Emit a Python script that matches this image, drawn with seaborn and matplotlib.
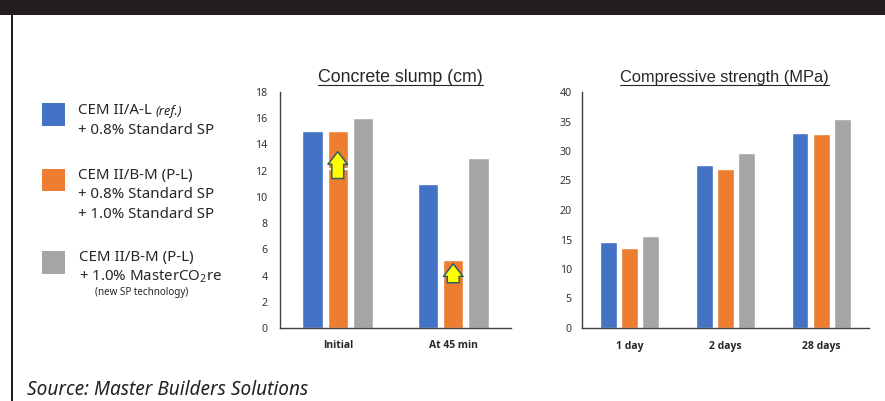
import pandas as pd
import matplotlib.pyplot as plt
import seaborn as sns
from matplotlib.patches import Rectangle
from matplotlib.lines import Line2D

W, H = 885, 401

# Chart data
mixes = ['A', 'B', 'C']
mix_colors = ['#4472C4', '#ED7D31', '#A5A5A5']
slump_times = ['Initial', 'At 45 min']
slump_a = [15, 11]
slump_b = [15, 5.2]
slump_c = [16, 13]
# level of the white line in the orange bars, and arrow ends
slump_b_before = [12.1, 4.0]
arrow_bottom = [11.4, 3.45]
arrow_top = [13.45, 4.9]
strength_ages = ['1 day', '2 days', '28 days']
strength_a = [14.6, 27.6, 33]
strength_b = [13.5, 27, 32.9]
strength_c = [15.6, 29.6, 35.4]

sns.set_theme(style="white")
plt.rcParams['font.family'] = ['Noto Sans', 'DejaVu Sans']
plt.rcParams['mathtext.fontset'] = 'custom'
plt.rcParams['mathtext.rm'] = 'Noto Sans'
plt.rcParams['mathtext.default'] = 'regular'


def long_table(cats, a, b, c):
    rows = []
    for mix, vals in zip(mixes, [a, b, c]):
        for cat, v in zip(cats, vals):
            rows.append({'cat': cat, 'mix': mix, 'value': v})
    return pd.DataFrame(rows)


def px_axes(fig, left, top, right, bottom):
    return fig.add_axes([left / W, 1 - bottom / H, (right - left) / W, (bottom - top) / H])


def px_rect(fig, left, top, right, bottom, color):
    fig.add_artist(Rectangle((left / W, 1 - bottom / H), (right - left) / W, (bottom - top) / H,
                             transform=fig.transFigure, facecolor=color, edgecolor='none'))


def px_text(fig, x, y, s, **kw):
    kw.setdefault('color', '#262626')
    kw.setdefault('va', 'center')
    return fig.text(x / W, 1 - y / H, s, **kw)


def draw_panel(ax, df, cats, ymax, step, pad):
    sns.barplot(data=df, x='cat', y='value', hue='mix', palette=mix_colors, hue_order=mixes,
                width=0.66, gap=0.2, saturation=1, legend=False, ax=ax)
    ax.set_xlim(-0.5, len(cats) - 0.5)
    ax.set_ylim(0, ymax)
    ax.set_yticks(range(0, ymax + 1, step))
    ax.set_xticks(range(len(cats)), labels=cats)
    ax.set_xlabel('')
    ax.set_ylabel('')
    ax.tick_params(axis='y', length=0, pad=pad, labelsize=7.6, labelcolor='#333333')
    ax.tick_params(axis='x', length=0, pad=9, labelsize=7.5, labelcolor='#262626')
    # Noto Sans has no bold face here
    plt.setp(ax.get_xticklabels(), family='Open Sans', fontweight='bold')
    sns.despine(ax=ax)
    for side in ['left', 'bottom']:
        ax.spines[side].set_color('#404040')
        ax.spines[side].set_linewidth(1.0)
    return ax


fig = plt.figure(figsize=(W / 100, H / 100), dpi=100, facecolor='white')

# Black page frame of the original slide
px_rect(fig, 0, 0, W, 15, '#231F20')
px_rect(fig, 11, 0, 13, H, '#231F20')

ax1 = px_axes(fig, 280, 92, 511, 328)
draw_panel(ax1, long_table(slump_times, slump_a, slump_b, slump_c), slump_times, 18, 2, 9)
ax2 = px_axes(fig, 581.5, 92, 869, 328)
draw_panel(ax2, long_table(strength_ages, strength_a, strength_b, strength_c), strength_ages, 40, 5, 7)

# White line and yellow arrow on the orange bars
for bar, level, y0, y1 in zip(ax1.containers[1], slump_b_before, arrow_bottom, arrow_top):
    xc = bar.get_x() + bar.get_width() / 2
    ax1.plot([bar.get_x(), bar.get_x() + bar.get_width()], [level, level], color='white', lw=1.6,
             solid_capstyle='butt', zorder=3)
    ax1.annotate('', xy=(xc, y1), xytext=(xc, y0), zorder=4,
                 arrowprops=dict(arrowstyle='simple,head_length=0.7,head_width=1.08,tail_width=0.66',
                                 mutation_scale=13, shrinkA=0, shrinkB=0,
                                 fc='#FFFF00', ec='#2F5F66', lw=1.1))

# Titles, underlined by hand
titles = [(400.5, 'Concrete slump (cm)', 12.8), (724.5, 'Compressive strength (MPa)', 11.8)]
title_artists = []
for x, s, size in titles:
    title_artists.append(px_text(fig, x, 77.5, s, ha='center', fontsize=size, family='Liberation Sans'))
fig.canvas.draw()
rend = fig.canvas.get_renderer()
for t in title_artists:
    bb = t.get_window_extent(rend)
    fig.add_artist(Line2D([bb.x0 / W, bb.x1 / W], [1 - 84.5 / H] * 2, transform=fig.transFigure,
                          color='#262626', lw=0.8))

# Legend block
px_rect(fig, 42, 103, 65, 126, mix_colors[0])
px_rect(fig, 42, 169, 65, 191.5, mix_colors[1])
px_rect(fig, 42, 251, 65, 273.5, mix_colors[2])
leg_size = 10.8
px_text(fig, 78.5, 111, 'CEM II/A-L', fontsize=leg_size)
px_text(fig, 155, 111, '(ref.)', fontsize=9.3, style='italic')
px_text(fig, 78.5, 130, '+ 0.8% Standard SP', fontsize=leg_size)
px_text(fig, 78.5, 175.5, 'CEM II/B-M (P-L)', fontsize=leg_size)
px_text(fig, 78.5, 195, '+ 0.8% Standard SP', fontsize=leg_size)
px_text(fig, 78.5, 215, '+ 1.0% Standard SP', fontsize=leg_size)
px_text(fig, 79, 257, 'CEM II/B-M (P-L)', fontsize=leg_size)
px_text(fig, 79, 277, '+ 1.0% MasterCO$_2$re', fontsize=leg_size)
px_text(fig, 95, 293, '(new SP technology)', fontsize=7.1)

px_text(fig, 27, 390, 'Source: Master Builders Solutions', fontsize=13.7, style='italic', color='#222222')

fig.savefig('out.png', dpi=100)
